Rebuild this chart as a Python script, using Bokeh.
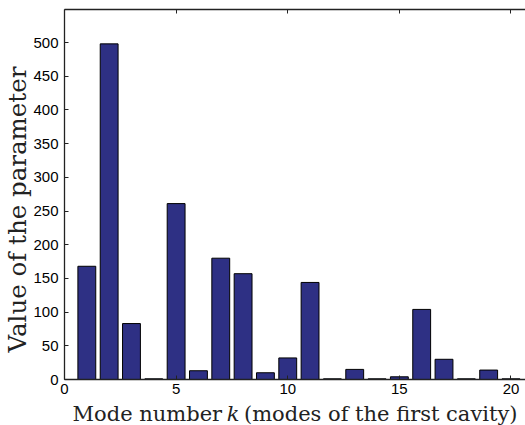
from bokeh.plotting import figure
from bokeh.layouts import column
from bokeh.models import LinearAxis, Range1d, FixedTicker, Title
from bokeh.core.properties import value
from bokeh.embed import file_html
from bokeh.resources import INLINE

# Parameter value for each mode of the first cavity
modes = list(range(1, 21))
values = [168, 498, 83, 1, 261, 13, 180, 157, 10, 32,
          144, 1, 15, 1, 4, 104, 30, 1, 14, 1]

x_ticks = [0, 5, 10, 15, 20]
y_ticks = list(range(0, 501, 50))

BAR_COLOR = "#2E3084"
SERIF = "DejaVu Serif"
SANS = "Liberation Sans"
INK = "#222222"

W, H = 525, 425
XLAB_H = 25            # strip under the axes that holds the x title
MAIN_H = H - XLAB_H


def blank(fig):
    fig.outline_line_color = None
    fig.grid.visible = False
    fig.background_fill_color = "white"
    fig.border_fill_color = "white"
    fig.min_border = 0


p = figure(width=W, height=MAIN_H, output_backend="svg", title=None,
           toolbar_location=None,
           x_range=Range1d(0, 20.65), y_range=Range1d(0, 549),
           x_axis_location=None, y_axis_location=None)
blank(p)
p.min_border_left = 64
p.min_border_top = 9
p.min_border_bottom = 21
p.min_border_right = 0

p.vbar(x=modes, top=values, width=0.8, bottom=0,
       fill_color=BAR_COLOR, line_color="black", line_width=1)


def style_axis(ax):
    ax.axis_line_color = INK
    ax.axis_line_width = 1.3
    ax.major_tick_line_color = INK
    ax.major_tick_in = 4
    ax.major_tick_out = 0
    ax.minor_tick_line_color = None
    ax.major_label_text_font = SANS
    ax.major_label_text_font_size = "15px"
    ax.major_label_text_color = "black"


bottom = LinearAxis(ticker=FixedTicker(ticks=x_ticks))
style_axis(bottom)
bottom.major_label_standoff = 4
p.add_layout(bottom, "below")

left = LinearAxis(ticker=FixedTicker(ticks=y_ticks))
style_axis(left)
left.major_label_standoff = 6
p.add_layout(left, "left")

# top edge of the box, with inward ticks and no numbers
top = LinearAxis(ticker=FixedTicker(ticks=x_ticks))
style_axis(top)
top.major_label_overrides = {t: "" for t in x_ticks}
top.major_label_standoff = 0
p.add_layout(top, "above")

# vertical title, anchored near the bottom of the frame
ytitle = Title(text="Value of the parameter", align="left", offset=27,
               standoff=-3, text_font=SERIF, text_font_size="24.5px",
               text_font_style="normal", text_color=INK)
p.add_layout(ytitle, "left")

# strip below the axes: x title, with the mode index k in italics
xf = figure(width=W, height=XLAB_H, output_backend="svg", title=None,
            toolbar_location=None, x_range=p.x_range,
            y_range=Range1d(0, XLAB_H), x_axis_location=None,
            y_axis_location=None)
blank(xf)
xf.min_border_left = 64
common = dict(text_font=value(SERIF), text_font_size=value("21px"),
              text_baseline="alphabetic", text_color=INK)
base = 12
xf.text(x=[0.36], y=[base], text=["Mode number"], text_align="left", **common)
xf.text(x=[7.55], y=[base], text=["k"], text_align="center",
        text_font_style="italic", **common)
xf.text(x=[20.29], y=[base], text=["(modes of the first cavity)"],
        text_align="right", **common)

layout = column(p, xf, spacing=0)
open("out.html", "w").write(file_html(layout, INLINE))
